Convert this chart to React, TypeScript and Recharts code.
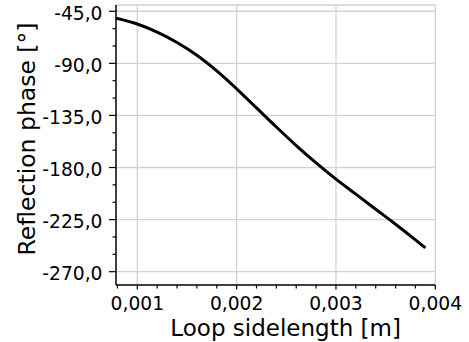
import { LineChart, Line, XAxis, YAxis, ReferenceLine, Label } from "recharts";

// loop sidelength [m] and reflection phase [deg]
const sidelength = [
  0.00079, 0.001, 0.0012, 0.0014, 0.0016, 0.0018, 0.002, 0.0022, 0.0024,
  0.0026, 0.0028, 0.003, 0.0032, 0.0034, 0.0036, 0.0038, 0.0039,
];
const phase = [
  -51, -56, -63, -72, -83, -96.5, -112, -128.5, -145, -161, -176, -190,
  -203, -216, -229, -242.5, -249.5,
];

const xMajor = [0.001, 0.002, 0.003, 0.004];
const xMinor = [
  0.0008, 0.001, 0.0012, 0.0014, 0.0016, 0.0018, 0.002, 0.0022, 0.0024,
  0.0026, 0.0028, 0.003, 0.0032, 0.0034, 0.0036, 0.0038, 0.004,
];
const yMajor = [-45, -90, -135, -180, -225, -270];
const yMinor = [
  -45, -60, -75, -90, -105, -120, -135, -150, -165, -180, -195, -210, -225,
  -240, -255, -270,
];

const data = sidelength.map((x, i) => ({ x, phase: phase[i] }));

const FONT = "'DejaVu Sans', sans-serif";
const GRID = "#d2d2d2";
const xDomain = [0.0007856, 0.004];
const yDomain = [-281.5, -39.6];

const isMajor = (list: number[], v: number) =>
  list.some((m) => Math.abs(m - v) < 1e-9);

function XTick({ x, y, payload }: any) {
  const major = isMajor(xMajor, payload.value);
  return (
    <g>
      <line x1={x} x2={x} y1={y} y2={y + (major ? 4.5 : 3.5)} stroke="#000" strokeWidth={1.2} />
      {major && (
        <text x={x} y={y + 25} textAnchor="middle" fontSize={18.7} fill="#000" fontFamily={FONT}>
          {payload.value.toFixed(3).replace(".", ",")}
        </text>
      )}
    </g>
  );
}

function YTick({ x, y, payload }: any) {
  const major = isMajor(yMajor, payload.value);
  return (
    <g>
      <line x1={x - (major ? 7 : 3.5)} x2={x} y1={y} y2={y} stroke="#000" strokeWidth={1.2} />
      {major && (
        <text x={x - 13.5} y={y + 8.5} textAnchor="end" fontSize={18.7} fill="#000" fontFamily={FONT}>
          {payload.value.toFixed(1).replace(".", ",")}
        </text>
      )}
    </g>
  );
}

export default function App() {
  return (
    <div style={{ position: "absolute", left: 0, top: 0, fontFamily: FONT, background: "#fff" }}>
      <LineChart
        width={469}
        height={342}
        data={data}
        margin={{ top: 5, right: 33.7, bottom: 0, left: 6 }}
      >
        {yMajor.map((v) => (
          <ReferenceLine key={"y" + v} y={v} stroke={GRID} strokeWidth={1.3} />
        ))}
        {xMajor.map((v) => (
          <ReferenceLine key={"x" + v} x={v} stroke={GRID} strokeWidth={1.3} />
        ))}
        <ReferenceLine y={yDomain[1]} stroke={GRID} strokeWidth={1.3} />
        <XAxis
          dataKey="x"
          type="number"
          domain={xDomain}
          allowDataOverflow
          ticks={xMinor}
          interval={0}
          height={57}
          tickSize={0}
          tickMargin={0}
          tick={<XTick />}
          axisLine={{ stroke: "#000", strokeWidth: 1.5 }}
        >
          <Label
            content={({ viewBox }: any) => (
              <text
                x={viewBox.x + viewBox.width / 2 + 10}
                y={viewBox.y + 51}
                textAnchor="middle"
                fontSize={23}
                fill="#000"
                fontFamily={FONT}
              >
                Loop sidelength [m]
              </text>
            )}
          />
        </XAxis>
        <YAxis
          type="number"
          domain={yDomain}
          allowDataOverflow
          ticks={yMinor}
          interval={0}
          width={110}
          tickSize={0}
          tickMargin={0}
          tick={<YTick />}
          axisLine={{ stroke: "#000", strokeWidth: 1.5 }}
        >
          <Label
            content={() => (
              <text
                x={35}
                y={139}
                transform="rotate(-90 35 139)"
                textAnchor="middle"
                fontSize={23.5}
                fill="#000"
                fontFamily={FONT}
              >
                Reflection phase [°]
              </text>
            )}
          />
        </YAxis>
        <Line
          dataKey="phase"
          type="monotone"
          stroke="#000"
          strokeWidth={3}
          dot={false}
          isAnimationActive={false}
        />
      </LineChart>
    </div>
  );
}
